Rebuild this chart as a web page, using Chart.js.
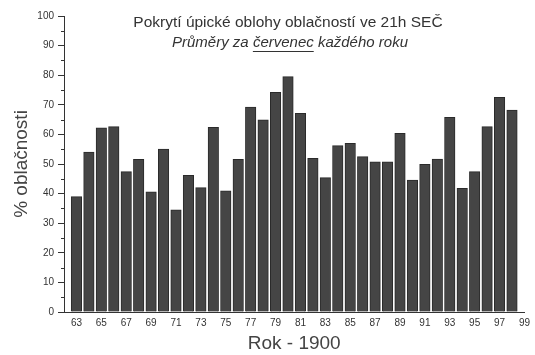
<!DOCTYPE html>
<html>
<head>
<meta charset="utf-8">
<script src="https://cdn.jsdelivr.net/npm/chart.js@4/dist/chart.umd.min.js"></script>
<style>
html,body{margin:0;padding:0;background:#fff;}
#wrap{width:535px;height:355px;position:relative;}
</style>
</head>
<body>
<div id="wrap"><canvas id="c" width="535" height="355"></canvas></div>
<script>
const years = [63,64,65,66,67,68,69,70,71,72,73,74,75,76,77,78,79,80,81,82,83,84,85,86,87,88,89,90,91,92,93,94,95,96,97,98];
const cloudiness = [39,54,62.2,62.6,47.4,51.6,40.6,55,34.5,46.2,42,62.4,40.9,51.6,69.2,64.9,74.2,79.5,67.1,51.9,45.4,56.2,57,52.5,50.7,50.7,60.4,44.6,49.9,51.7,65.8,41.8,47.4,62.6,72.5,68.2];
const xTickLabels = [63,65,67,69,71,73,75,77,79,81,83,85,87,89,91,93,95,97,99];
const yMajorTicks = [0,10,20,30,40,50,60,70,80,90,100];
const yMinorTicks = [5,15,25,35,45,55,65,75,85,95];
const titleText = "Pokrytí úpické oblohy oblačností ve 21h SEČ";
const subtitleParts = ["Průměry za ", "červenec", " každého roku"];
const xTitle = "Rok - 1900";
const yTitle = "% oblačnosti";

const FONT = "'Liberation Sans', Arial, sans-serif";

const extras = {
  id: 'extras',
  afterDraw(chart) {
    const ctx = chart.ctx;
    const y = chart.scales.y;
    const left = chart.chartArea.left;
    ctx.save();
    ctx.strokeStyle = '#333';
    ctx.lineWidth = 1;
    yMinorTicks.forEach(v => {
      const p = Math.round(y.getPixelForValue(v)) + 0.5;
      ctx.beginPath();
      ctx.moveTo(left - 3, p);
      ctx.lineTo(left, p);
      ctx.stroke();
    });
    // titles
    ctx.fillStyle = '#333';
    ctx.textBaseline = 'middle';
    ctx.textAlign = 'center';
    ctx.font = "15.5px " + FONT;
    ctx.fillText(titleText, 288, 23);
    ctx.font = "italic 15px " + FONT;
    const widths = subtitleParts.map(s => ctx.measureText(s).width);
    const total = widths.reduce((a,b)=>a+b,0);
    let x = 290 - total/2;
    ctx.textAlign = 'left';
    subtitleParts.forEach((s,i) => {
      ctx.fillText(s, x, 43);
      if (i === 1) {
        ctx.beginPath();
        ctx.moveTo(x, 51.5);
        ctx.lineTo(x + widths[i], 51.5);
        ctx.stroke();
      }
      x += widths[i];
    });
    ctx.restore();
  }
};

new Chart(document.getElementById('c'), {
  type: 'bar',
  data: {
    datasets: [{
      data: years.map((yr,i) => ({x: yr, y: cloudiness[i]})),
      backgroundColor: '#454545',
      borderColor: '#2a2a2a',
      borderWidth: 1,
      barThickness: 10.5
    }]
  },
  options: {
    responsive: false,
    animation: false,
    events: [],
    layout: { padding: { top: 16, right: 7, left: 10, bottom: 0 } },
    plugins: { legend: { display: false }, tooltip: { enabled: false } },
    scales: {
      x: {
        type: 'linear',
        offset: false,
        min: 62,
        max: 99,
        afterBuildTicks: s => { s.ticks = xTickLabels.map(v => ({value: v})); },
        grid: { display: false, drawTicks: false },
        border: { display: true, color: '#333', width: 1 },
        ticks: { color: '#333', font: { size: 10, family: FONT }, padding: 5, maxRotation: 0, autoSkip: false },
        title: { display: true, text: xTitle, color: '#444', font: { size: 19, family: FONT }, padding: { top: 0, bottom: 0 } },
        afterFit: s => { s.height = 43; }
      },
      y: {
        min: 0,
        max: 100,
        afterBuildTicks: s => { s.ticks = yMajorTicks.map(v => ({value: v})); },
        grid: { drawOnChartArea: false, tickLength: 6, color: '#333' },
        border: { display: true, color: '#333', width: 1 },
        ticks: { color: '#333', font: { size: 10, family: FONT }, padding: 4 },
        title: { display: true, text: yTitle, color: '#444', font: { size: 19, family: FONT }, padding: { top: 0, bottom: 0 } },
        afterFit: s => { s.width = 54; }
      }
    }
  },
  plugins: [extras]
});
</script>
</body>
</html>
